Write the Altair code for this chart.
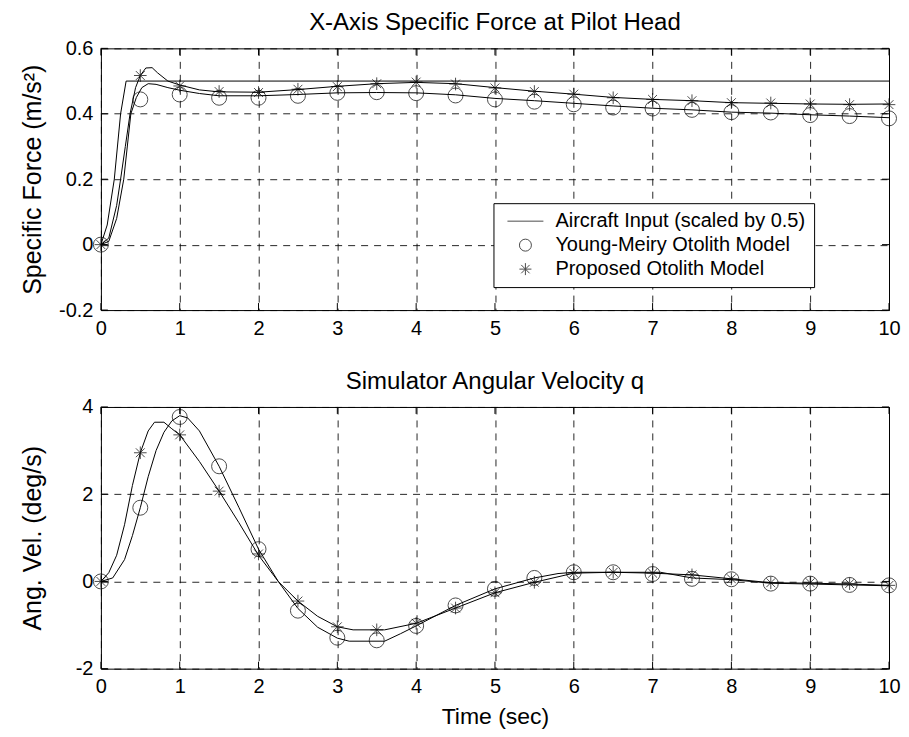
import altair as alt
import pandas as pd

FONT = "Liberation Sans"

# ---------------- data ----------------
SERIES = ["Aircraft Input (scaled by 0.5)", "Young-Meiry Otolith Model", "Proposed Otolith Model"]

x_ticks = [0, 1, 2, 3, 4, 5, 6, 7, 8, 9, 10]
sf_ticks = [-0.2, 0, 0.2, 0.4, 0.6]
q_ticks = [-2, 0, 2, 4]

marker_t = [0, 0.5, 1, 1.5, 2, 2.5, 3, 3.5, 4, 4.5, 5, 5.5, 6, 6.5, 7, 7.5, 8, 8.5, 9, 9.5, 10]

# top panel: specific force (lines)
sf_ac_t = [0, 0.08, 0.17, 0.25, 0.32, 10]
sf_ac_v = [0, 0.06, 0.2, 0.4, 0.5, 0.5]

sf_ym_t = [0, 0.1, 0.2, 0.29, 0.38, 0.45, 0.52, 0.6, 0.7, 0.85, 1.0, 1.25, 1.5, 2, 2.5, 3, 3.5, 4,
           4.5, 5, 5.5, 6, 6.5, 7, 7.5, 8, 8.5, 9, 9.5, 10]
sf_ym_v = [0, 0.01, 0.08, 0.2, 0.4, 0.45, 0.48, 0.492, 0.49, 0.48, 0.472, 0.462, 0.455, 0.455, 0.459,
           0.464, 0.465, 0.464, 0.458, 0.447, 0.44, 0.432, 0.424, 0.417, 0.412, 0.405, 0.402, 0.397,
           0.393, 0.388]

sf_pr_t = [0, 0.1, 0.2, 0.25, 0.31, 0.37, 0.44, 0.5, 0.57, 0.65, 0.72, 0.85, 1.0, 1.25, 1.5, 2, 2.5,
           3, 3.5, 4, 4.5, 5, 5.5, 6, 6.5, 7, 7.5, 8, 8.5, 9, 9.5, 10]
sf_pr_v = [0, 0.02, 0.12, 0.2, 0.3, 0.4, 0.48, 0.517, 0.54, 0.541, 0.525, 0.5, 0.488, 0.473, 0.467,
           0.466, 0.474, 0.484, 0.492, 0.496, 0.492, 0.48, 0.469, 0.46, 0.45, 0.444, 0.44, 0.434,
           0.432, 0.43, 0.429, 0.43]

# top panel markers
sf_ym_marks = [0, 0.444, 0.459, 0.449, 0.449, 0.455, 0.464, 0.466, 0.463, 0.456, 0.444, 0.437, 0.429,
               0.419, 0.416, 0.412, 0.405, 0.404, 0.396, 0.393, 0.386]
sf_pr_marks = [0, 0.517, 0.485, 0.468, 0.465, 0.475, 0.483, 0.492, 0.497, 0.491, 0.479, 0.468, 0.46,
               0.449, 0.444, 0.44, 0.434, 0.433, 0.43, 0.428, 0.428]

# bottom panel: angular velocity (lines)
q_ym_t = [0, 0.15, 0.3, 0.4, 0.5, 0.6, 0.7, 0.8, 0.9, 1.0, 1.1, 1.25, 1.5, 1.75, 2.0, 2.25, 2.5, 2.75,
          3.0, 3.15, 3.6, 3.8, 4, 4.5, 5, 5.5, 5.8, 6, 7.1, 7.5, 8, 8.5, 9, 9.5, 10]
q_ym_v = [0, 0.08, 0.5, 1.05, 1.69, 2.4, 3.0, 3.42, 3.68, 3.8, 3.75, 3.45, 2.64, 1.7, 0.74, 0.0, -0.62,
          -1.05, -1.3, -1.37, -1.37, -1.2, -1.02, -0.55, -0.17, 0.08, 0.18, 0.21, 0.21, 0.08, 0.04,
          -0.04, -0.06, -0.08, -0.1]

q_pr_t = [0, 0.1, 0.2, 0.3, 0.4, 0.5, 0.6, 0.68, 0.8, 0.9, 1.0, 1.25, 1.5, 1.75, 2.0, 2.25, 2.5, 2.75,
          3.0, 3.2, 3.6, 4, 4.5, 5, 5.5, 6, 6.5, 7, 7.5, 8, 8.5, 9, 9.5, 10]
q_pr_v = [0, 0.2, 0.6, 1.3, 2.2, 2.95, 3.45, 3.65, 3.65, 3.5, 3.36, 2.75, 2.07, 1.35, 0.6, 0.0, -0.45,
          -0.8, -1.04, -1.11, -1.11, -0.96, -0.61, -0.26, -0.02, 0.19, 0.21, 0.19, 0.15, 0.06, -0.03,
          -0.04, -0.06, -0.09]

# bottom panel markers
q_ym_marks = [0, 1.69, 3.77, 2.64, 0.74, -0.67, -1.29, -1.35, -1.02, -0.55, -0.17, 0.08, 0.21, 0.21,
              0.17, 0.06, 0.05, -0.05, -0.05, -0.08, -0.09]
q_pr_marks = [0, 2.95, 3.36, 2.07, 0.63, -0.45, -1.04, -1.11, -0.96, -0.61, -0.26, -0.02, 0.19, 0.21,
              0.19, 0.15, 0.06, -0.03, -0.03, -0.05, -0.09]

# ---------------- styling ----------------
W, H = 789, 262
TICK = 7
LINE_PATH = "M-3,0L3,0"
STAR_PATH = "M-1,0L1,0M0,-1L0,1M-0.7,-0.7L0.7,0.7M-0.7,0.7L0.7,-0.7"


def lines_df(pairs):
    rows = []
    for name, ts, vs in pairs:
        for t, v in zip(ts, vs):
            rows.append({"t": t, "value": v, "series": name})
    return pd.DataFrame(rows)


def marks_df(name, vals):
    return pd.DataFrame({"t": marker_t, "value": vals, "series": name})


def panel(line_pairs, ym_marks, pr_marks, ydomain, yticks, ytitle, title, xtitle, legend):
    xs = alt.Scale(domain=[0, 10], nice=False)
    ys = alt.Scale(domain=ydomain, nice=False)
    xaxis = alt.Axis(values=x_ticks, labelFlush=False, title=xtitle if xtitle else "",
                     labelExpr="toString(datum.value)", titlePadding=9, titleFontSize=23)
    yaxis = alt.Axis(values=yticks, title=ytitle, labelExpr="toString(round(datum.value*10)/10)",
                     titleX=-55, titleFontSize=25)

    base_lines = alt.Chart(lines_df(line_pairs)).mark_line(color="black", strokeWidth=1).encode(
        x=alt.X("t:Q", scale=xs, axis=xaxis),
        y=alt.Y("value:Q", scale=ys, axis=yaxis),
        detail="series:N",
    )

    shape_scale = alt.Scale(domain=SERIES, range=[LINE_PATH, "circle", STAR_PATH])
    if legend:
        shape_enc = alt.Shape("series:N", scale=shape_scale, legend=alt.Legend(
            title=None, orient="none", legendX=393, legendY=155, padding=8,
            symbolOffset=14, labelOffset=20, strokeColor="black", fillColor="white",
            labelFont=FONT, labelFontSize=20, labelColor="black", rowPadding=4,
            symbolSize=144, symbolStrokeColor="black", symbolStrokeWidth=1,
            symbolFillColor="transparent", labelLimit=500, cornerRadius=0))
        circles = alt.Chart(marks_df(SERIES[1], ym_marks)).mark_point(
            filled=False, color="black", strokeWidth=1, size=225).encode(
            x=alt.X("t:Q", scale=xs), y=alt.Y("value:Q", scale=ys), shape=shape_enc)
        stars = alt.Chart(marks_df(SERIES[2], pr_marks)).mark_point(
            filled=False, color="black", strokeWidth=1, size=160).encode(
            x=alt.X("t:Q", scale=xs), y=alt.Y("value:Q", scale=ys), shape=shape_enc)
    else:
        circles = alt.Chart(marks_df(SERIES[1], ym_marks)).mark_point(
            filled=False, color="black", strokeWidth=1, size=225, shape="circle").encode(
            x=alt.X("t:Q", scale=xs), y=alt.Y("value:Q", scale=ys))
        stars = alt.Chart(marks_df(SERIES[2], pr_marks)).mark_point(
            filled=False, color="black", strokeWidth=1, size=160, shape=STAR_PATH).encode(
            x=alt.X("t:Q", scale=xs), y=alt.Y("value:Q", scale=ys))

    xt = pd.DataFrame({"t": x_ticks})
    yt = pd.DataFrame({"value": yticks})
    rule = dict(color="black", strokeWidth=1)
    tick_top = alt.Chart(xt).mark_rule(**rule).encode(
        x=alt.X("t:Q", scale=xs), y=alt.value(0), y2=alt.value(TICK))
    tick_bot = alt.Chart(xt).mark_rule(**rule).encode(
        x=alt.X("t:Q", scale=xs), y=alt.value(H - TICK), y2=alt.value(H))
    tick_left = alt.Chart(yt).mark_rule(**rule).encode(
        y=alt.Y("value:Q", scale=ys), x=alt.value(0), x2=alt.value(TICK))
    tick_right = alt.Chart(yt).mark_rule(**rule).encode(
        y=alt.Y("value:Q", scale=ys), x=alt.value(W - TICK), x2=alt.value(W))

    return alt.layer(base_lines, tick_top, tick_bot, tick_left, tick_right, circles, stars).properties(
        width=W, height=H,
        title=alt.Title(title, font=FONT, fontSize=24, fontWeight="normal", color="black",
                        anchor="middle", frame="group", offset=3),
    )


top = panel(
    [(SERIES[0], sf_ac_t, sf_ac_v), (SERIES[1], sf_ym_t, sf_ym_v), (SERIES[2], sf_pr_t, sf_pr_v)],
    sf_ym_marks, sf_pr_marks, [-0.2, 0.6], sf_ticks, "Specific Force (m/s²)",
    "X-Axis Specific Force at Pilot Head", None, True)

bottom = panel(
    [(SERIES[1], q_ym_t, q_ym_v), (SERIES[2], q_pr_t, q_pr_v)],
    q_ym_marks, q_pr_marks, [-2, 4], q_ticks, "Ang. Vel. (deg/s)",
    "Simulator Angular Velocity q", "Time (sec)", False)

chart = alt.vconcat(top, bottom, spacing=30).resolve_scale(
    x="independent", y="independent", shape="independent"
).resolve_legend(shape="independent").properties(
    padding={"left": 12, "top": 2, "right": 0, "bottom": 0}
).configure(
    background="white"
).configure_view(
    stroke="black", strokeWidth=1
).configure_axis(
    domain=False, ticks=False, grid=True, gridColor="black", gridDash=[7, 6], gridWidth=1,
    gridOpacity=0.85, labelFont=FONT, labelFontSize=20, labelColor="black", labelPadding=8,
    titleFont=FONT, titleFontWeight="normal", titleColor="black"
)

chart.save("out.html", embed_options={"renderer": "svg", "actions": False})
